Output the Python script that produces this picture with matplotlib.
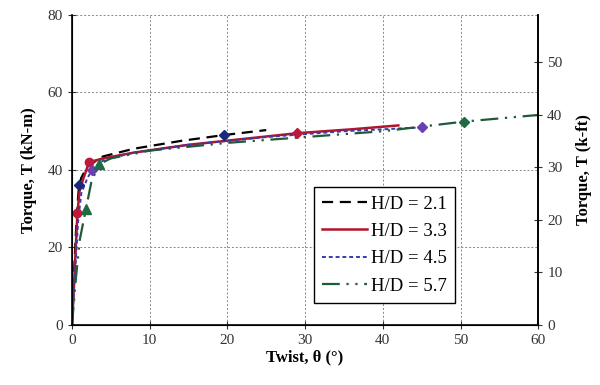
import matplotlib.pyplot as plt

plt.rcParams["font.family"] = ["Liberation Serif", "DejaVu Serif"]

KNM_TO_KFT = 0.7376

# twist (deg) and torque (kN-m) for each aspect ratio
theta_21 = [0, 0.3, 0.6, 0.9, 1.2, 2.0, 4.0, 8.0, 14.0, 19.5, 25.0]
torque_21 = [0, 15, 28, 36, 38, 41, 43.5, 45.5, 47.5, 49.0, 50.3]

theta_33 = [0, 0.3, 0.7, 1.0, 1.5, 2.2, 4.0, 8.0, 15.0, 22.0, 29.0, 36.0, 42.0]
torque_33 = [0, 12, 29, 35, 38, 42, 43, 44.5, 46.5, 48.0, 49.5, 50.5, 51.5]

theta_45 = [0, 0.4, 0.8, 1.2, 2.0, 2.6, 4.0, 8.0, 15.0, 25.0, 35.0, 45.0]
torque_45 = [0, 14, 27, 34, 38, 40, 42.5, 44.5, 46.5, 48.5, 50.0, 51.0]

theta_57 = [0, 0.5, 1.0, 1.8, 2.5, 3.5, 5.0, 10.0, 20.0, 30.0, 40.0, 50.5, 60.0]
torque_57 = [0, 12, 22, 30, 37, 41.5, 43, 45.0, 47.0, 48.5, 50.0, 52.5, 54.2]

labels = ["H/D = 2.1", "H/D = 3.3", "H/D = 4.5", "H/D = 5.7"]

fig = plt.figure(figsize=(6.0, 3.85), dpi=100)
ax = fig.add_axes([0.12, 0.156, 0.777, 0.805])

ax.plot(theta_21, torque_21, ls=(0, (5, 3)), color="black", lw=1.6,
        label=labels[0])
ax.plot(theta_33, torque_33, ls="-", color="#b0152a", lw=1.8,
        label=labels[1])
ax.plot(theta_45, torque_45, ls=(0, (2, 1.5)), color="#3a3ab0", lw=1.4,
        label=labels[2])
ax.plot(theta_57, torque_57, ls=(0, (8, 3, 1, 3, 1, 3)), color="#1f5a3a",
        lw=1.6, label=labels[3])

# peak / cracking points on each curve
ax.plot([theta_21[3], theta_21[9]], [torque_21[3], torque_21[9]], "D",
        color="#1a2a7a", ms=5, ls="none")
ax.plot([theta_33[2], theta_33[5]], [torque_33[2], torque_33[5]], "o",
        color="#c0183a", ms=6, ls="none")
ax.plot([theta_33[10]], [torque_33[10]], "D", color="#c0183a", ms=5,
        ls="none")
ax.plot([theta_45[5], theta_45[11]], [torque_45[5], torque_45[11]], "D",
        color="#6a40b0", ms=5, ls="none")
ax.plot([theta_57[3], theta_57[5]], [torque_57[3], torque_57[5]], "^",
        color="#1f6a40", ms=7, ls="none")
ax.plot([theta_57[11]], [torque_57[11]], "D", color="#1f6a40", ms=5,
        ls="none")

ax.set_xlim(0, 60)
ax.set_ylim(0, 80)
ax.set_xticks(range(0, 61, 10))
ax.set_yticks(range(0, 81, 20))
ax.grid(True, color="#888888", ls=(0, (2, 2)), lw=0.7)
ax.tick_params(direction="inout", length=6, labelsize=11, colors="#333333")
ax.set_xlabel("Twist, \u03b8 (\u00b0)", fontsize=12, fontweight="bold",
              labelpad=2)
ax.set_ylabel("Torque, T (kN-m)", fontsize=12, fontweight="bold",
              labelpad=8)
for s in ax.spines.values():
    s.set_linewidth(1.2)
ax.spines["top"].set_visible(False)

ax2 = ax.twinx()
ax2.set_ylim(0, 80 * KNM_TO_KFT)
ax2.set_yticks(range(0, 51, 10))
ax2.tick_params(direction="inout", length=6, labelsize=11, colors="#333333")
ax2.set_ylabel("Torque, T (k-ft)", fontsize=12, fontweight="bold",
               labelpad=10)
ax2.spines["top"].set_visible(False)
ax2.spines["right"].set_linewidth(1.2)

leg = ax.legend(loc="upper left", bbox_to_anchor=(0.519, 0.445),
                borderaxespad=0, fontsize=13.5, frameon=True, fancybox=False,
                edgecolor="black", framealpha=1, handlelength=2.4,
                handletextpad=0.2, borderpad=0.45, labelspacing=0.55)
leg.get_frame().set_linewidth(1.0)

fig.savefig("out.png", dpi=100)
